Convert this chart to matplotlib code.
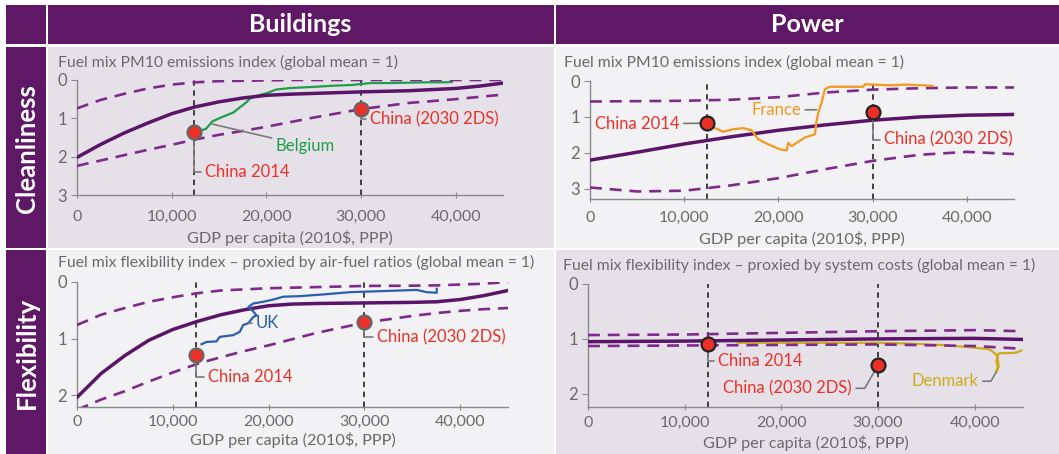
import matplotlib
matplotlib.use("Agg")
import matplotlib.pyplot as plt
from matplotlib.patches import Rectangle

plt.rcParams['font.family'] = ['Lato', 'DejaVu Sans']

# ---------------- data ----------------
col_headers = ["Buildings", "Power"]
row_headers = ["Cleanliness", "Flexibility"]
titles = ["Fuel mix PM10 emissions index (global mean = 1)",
          "Fuel mix PM10 emissions index (global mean = 1)",
          "Fuel mix flexibility index \u2013 proxied by air-fuel ratios (global mean = 1)",
          "Fuel mix flexibility index \u2013 proxied by system costs (global mean = 1)"]
xlabel = "GDP per capita (2010$, PPP)"
x_ticks = [0, 10000, 20000, 30000, 40000]

# Buildings - cleanliness
bc_x = [0, 2500, 5000, 7500, 10000, 12500, 15000, 17500, 20000, 22500, 25000, 30000,
        35000, 40000, 42500, 45000]
bc_mid = [2.02, 1.68, 1.38, 1.12, 0.88, 0.70, 0.57, 0.47, 0.40, 0.37, 0.35, 0.31,
          0.28, 0.22, 0.16, 0.08]
bc_upper = [0.74, 0.52, 0.36, 0.22, 0.12, 0.06, 0.03, 0.02, 0.01, 0.0, 0.0, 0.0,
            0.0, 0.0, 0.0, 0.0]
bc_lower = [2.24, 2.10, 1.96, 1.82, 1.69, 1.55, 1.43, 1.33, 1.22, 1.10, 0.98, 0.76,
            0.60, 0.50, 0.44, 0.38]
belgium_x = [13100, 13600, 14300, 15200, 16500, 17800, 18300, 19200, 20200, 21000, 22500,
             25000, 27000, 29000, 31000, 33000, 35000, 37000, 39000, 39600]
belgium_y = [1.31, 1.28, 1.08, 0.98, 0.85, 0.60, 0.48, 0.40, 0.33, 0.25, 0.21,
             0.18, 0.15, 0.13, 0.08, 0.08, 0.07, 0.06, 0.06, 0.05]

# Power - cleanliness
pc_x = [0, 5000, 10000, 15000, 20000, 25000, 30000, 35000, 40000, 45000]
pc_mid = [2.2, 1.98, 1.75, 1.55, 1.37, 1.22, 1.09, 1.0, 0.95, 0.93]
pc_upper = [0.57, 0.56, 0.55, 0.52, 0.45, 0.32, 0.24, 0.2, 0.18, 0.18]
pc_lower = [2.96, 3.07, 3.05, 2.9, 2.7, 2.45, 2.22, 2.05, 1.97, 2.03]
france_x = [12520, 13260, 14150, 15210, 16270, 17150, 17860, 18750, 20160, 20870, 21040, 21400,
            21930, 22810, 23870, 24050, 24300, 24580, 24930, 25460, 27000, 29000, 29180, 31830,
            33500, 35330, 36400]
france_y = [1.16, 1.31, 1.41, 1.34, 1.31, 1.37, 1.62, 1.74, 1.90, 1.93, 1.72, 1.81,
            1.72, 1.57, 1.48, 1.10, 0.81, 0.60, 0.23, 0.16, 0.16, 0.16, 0.09, 0.12,
            0.10, 0.12, 0.14]

# Buildings - flexibility
bf_x = [0, 2500, 5000, 7500, 10000, 12500, 15000, 17500, 20000, 22500, 25000, 30000,
        35000, 37500, 40000, 42500, 45000]
bf_mid = [2.04, 1.62, 1.30, 1.03, 0.84, 0.70, 0.58, 0.49, 0.42, 0.39, 0.38, 0.37,
          0.36, 0.35, 0.31, 0.24, 0.15]
bf_upper = [0.76, 0.58, 0.46, 0.35, 0.27, 0.20, 0.15, 0.13, 0.11, 0.10, 0.09, 0.07,
            0.065, 0.06, 0.045, 0.03, 0.0]
bf_lower = [2.26, 2.08, 1.93, 1.76, 1.60, 1.45, 1.33, 1.22, 1.12, 1.01, 0.90, 0.72,
            0.60, 0.55, 0.51, 0.48, 0.46]
uk_x = [13000, 13520, 14560, 14910, 16300, 17000, 17350, 17870, 18400, 18750, 18400, 17900,
        18400, 19440, 20490, 21530, 23280, 25710, 28500, 31990, 35470, 36520, 37560, 37560]
uk_y = [1.1, 1.06, 1.05, 0.97, 0.94, 0.88, 0.76, 0.73, 0.62, 0.59, 0.52, 0.44,
        0.38, 0.35, 0.31, 0.26, 0.25, 0.22, 0.18, 0.16, 0.14, 0.18, 0.19, 0.12]

# Power - flexibility
pf_x = [0, 10000, 20000, 30000, 40000, 45000]
pf_mid = [1.05, 1.04, 1.02, 1.0, 0.99, 1.01]
pf_upper = [0.93, 0.92, 0.89, 0.86, 0.84, 0.86]
pf_lower = [1.13, 1.12, 1.11, 1.1, 1.13, 1.18]
denmark_x = [15500, 20000, 25000, 30180, 34000, 36500, 38760, 40500, 41550, 42070, 42380, 42240,
             42380, 42240, 42500, 42300, 42580, 43500, 44300, 44830]
denmark_y = [1.07, 1.07, 1.07, 1.07, 1.09, 1.11, 1.14, 1.17, 1.19, 1.26, 1.32, 1.41,
             1.5, 1.6, 1.5, 1.3, 1.26, 1.26, 1.25, 1.21]

# China markers (GDP, index) per panel: TL, TR, BL, BR
china2014_gdp = 12400
china2030_gdp = 30000
china2014_val = [1.35, 1.17, 1.29, 1.10]
china2030_val = [0.75, 0.85, 0.71, 1.48]

# ---------------- styling ----------------
W, H = 1059, 454
PURPLE_HDR = '#5f1866'
PURPLE_LINE = '#5a1468'
PURPLE_DASH = '#7d2a8a'
RED = '#ec3027'
GREY_TXT = '#6a6a6a'
LEADER = '#7a7a7a'
BG_DARK = '#e6e1e9'
BG_LIGHT = '#f2f1f3'

fig = plt.figure(figsize=(W / 100, H / 100), dpi=100)
fig.patch.set_facecolor('white')

bg = fig.add_axes([0, 0, 1, 1])
bg.set_xlim(0, W)
bg.set_ylim(H, 0)
bg.axis('off')
bg.set_zorder(-5)


def rect(x0, y0, x1, y1, c):
    bg.add_patch(Rectangle((x0, y0), x1 - x0, y1 - y0, facecolor=c, edgecolor='none'))


# headers
rect(6, 5, 46, 44, PURPLE_HDR)
rect(48, 5, 554, 44, PURPLE_HDR)
rect(556, 5, W, 44, PURPLE_HDR)
rect(6, 47, 46, 248, PURPLE_HDR)
rect(6, 250, 46, H, PURPLE_HDR)
# panels (checkerboard)
rect(48, 47, 554, 248, BG_DARK)
rect(556, 47, W, 248, BG_LIGHT)
rect(48, 250, 554, H, BG_LIGHT)
rect(556, 250, W, H, BG_DARK)

bg.text(300, 25, col_headers[0], color='white', fontsize=18, fontweight='bold', ha='center', va='center')
bg.text(807, 25, col_headers[1], color='white', fontsize=18, fontweight='bold', ha='center', va='center')
bg.text(27, 149, row_headers[0], color='white', fontsize=18.5, fontweight='bold', ha='center', va='center', rotation=90)
bg.text(27, 353, row_headers[1], color='white', fontsize=18.5, fontweight='bold', ha='center', va='center', rotation=90)

# panel pixel geometry: (x at 0, x at 45000, y at top 0, y at axis bottom)
panels = [
    dict(px=(77, 503, 80, 195), ymax=3.0, yt=[0, 1, 2, 3], title=(58, 62), xl=238, pad=8.0),
    dict(px=(590, 1014, 81, 199), ymax=3.28, yt=[0, 1, 2, 3], title=(564, 62), xl=239, pad=6.0),
    dict(px=(77, 508, 282, 407), ymax=2.21, yt=[0, 1, 2], title=(58, 262), xl=440, pad=3.0),
    dict(px=(588, 1023, 284, 407), ymax=2.24, yt=[0, 1, 2], title=(563, 265), xl=443, pad=4.0),
]

axes = []
for i, p in enumerate(panels):
    x0, x1, y0, y1 = p['px']
    ax = fig.add_axes([x0 / W, 1 - y1 / H, (x1 - x0) / W, (y1 - y0) / H])
    ax.set_facecolor('none')
    ax.set_xlim(0, 45000)
    ax.set_ylim(p['ymax'], 0)
    for s in ['top', 'right']:
        ax.spines[s].set_visible(False)
    for s in ['left', 'bottom']:
        ax.spines[s].set_color('#8a8a8a')
        ax.spines[s].set_linewidth(1.0)
    ax.set_xticks(x_ticks)
    ax.set_xticklabels([f"{t:,}" for t in x_ticks])
    ax.set_yticks(p['yt'])
    ax.tick_params(axis='x', direction='inout', length=5, color='#8a8a8a', labelsize=11.5,
                   labelcolor=GREY_TXT, pad=p['pad'])
    ax.tick_params(axis='y', direction='out', length=4, color='#8a8a8a', labelsize=12,
                   labelcolor=GREY_TXT, pad=3)
    tx, ty = p['title']
    bg.text(tx, ty, titles[i], color=GREY_TXT, fontsize=11.3, ha='left', va='center')
    bg.text((x0 + x1) / 2, p['xl'], xlabel, color=GREY_TXT, fontsize=11.7, ha='center', va='center')
    for g in (china2014_gdp, china2030_gdp):
        ax.axvline(g, color='#333333', lw=1.3, ls=(0, (3, 2.5)), zorder=2)
    axes.append(ax)

series = [
    (bc_x, bc_mid, bc_upper, bc_lower),
    (pc_x, pc_mid, pc_upper, pc_lower),
    (bf_x, bf_mid, bf_upper, bf_lower),
    (pf_x, pf_mid, pf_upper, pf_lower),
]
for ax, (xs, mid, up, lo) in zip(axes, series):
    ax.plot(xs, up, color=PURPLE_DASH, lw=1.9, ls=(0, (4.5, 3)), zorder=3)
    ax.plot(xs, lo, color=PURPLE_DASH, lw=1.9, ls=(0, (4.5, 3)), zorder=3)
    ax.plot(xs, mid, color=PURPLE_LINE, lw=2.5, zorder=3, solid_capstyle='round',
            solid_joinstyle='round')

axes[0].plot(belgium_x, belgium_y, color='#1f9e4a', lw=1.6, zorder=2.8)
axes[1].plot(france_x, france_y, color='#f39a1e', lw=1.6, zorder=4)
axes[2].plot(uk_x, uk_y, color='#2b5fad', lw=1.6, zorder=4)
axes[3].plot(denmark_x, denmark_y, color='#cdab1b', lw=1.6, zorder=2.5)

edge_cols = ['#666666', '#222222', '#666666', '#222222']
for i, ax in enumerate(axes):
    ax.plot([china2014_gdp, china2030_gdp], [china2014_val[i], china2030_val[i]], ls='none',
            marker='o', ms=10, mfc=RED, mec=edge_cols[i], mew=1.6, zorder=6, clip_on=False)

ANG = 'angle,angleA=0,angleB=90,rad=0'


def label(ax, text, xy, xyt, color, ha='left', conn=ANG, size=12):
    ax.annotate(text, xy=xy, xytext=xyt, textcoords='data', color=color, fontsize=size,
                ha=ha, va='center', zorder=5,
                arrowprops=dict(arrowstyle='-', color=LEADER, lw=1.2, shrinkA=1, shrinkB=0,
                                connectionstyle=conn))


a = axes
label(a[0], "China 2014", (china2014_gdp, china2014_val[0]), (13500, 2.4), RED)
label(a[0], "China (2030 2DS)", (china2030_gdp, china2030_val[0]), (31000, 1.03), RED)
label(a[0], "Belgium", (14300, 1.15), (21000, 1.72), '#1f9e4a', conn='arc3,rad=0')

label(a[1], "China 2014", (china2014_gdp, china2014_val[1]), (9500, 1.2), RED, ha='right', conn='arc3,rad=0')
label(a[1], "France", (24050, 0.8), (22400, 0.8), '#f39a1e', ha='right', conn='arc3,rad=0')
label(a[1], "China (2030 2DS)", (china2030_gdp, china2030_val[1]), (31200, 1.63), RED)

label(a[2], "China 2014", (china2014_gdp, china2014_val[2]), (13700, 1.68), RED)
label(a[2], "UK", (17950, 0.73), (18700, 0.72), '#2b5fad', conn='arc3,rad=0')
label(a[2], "China (2030 2DS)", (china2030_gdp, china2030_val[2]), (31300, 0.98), RED)

label(a[3], "China 2014", (china2014_gdp, china2014_val[3]), (13500, 1.4), RED)
label(a[3], "China (2030 2DS)", (china2030_gdp, china2030_val[3]), (27300, 1.9), RED, ha='right',
      conn='angle,angleA=0,angleB=60,rad=0')
label(a[3], "Denmark", (42240, 1.6), (40400, 1.77), '#cdab1b', ha='right',
      conn='angle,angleA=0,angleB=60,rad=0')

fig.savefig('out.png', dpi=100, facecolor='white')
